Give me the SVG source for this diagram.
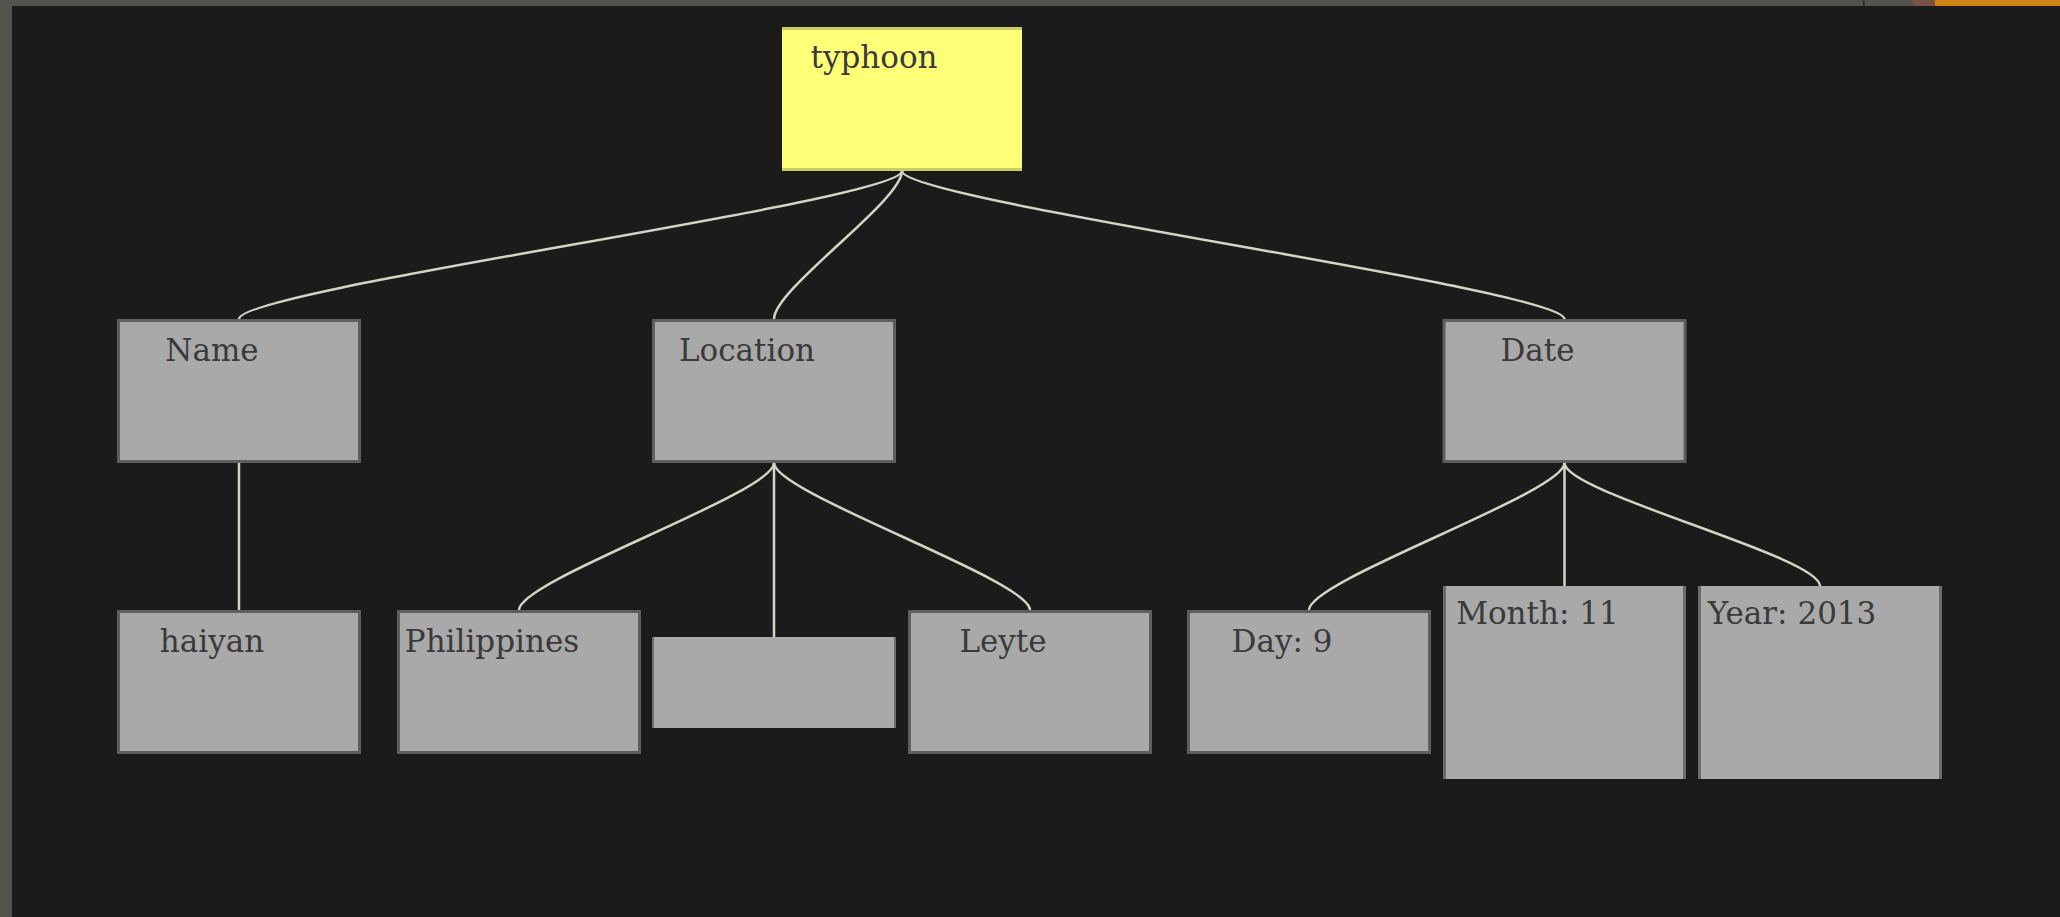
<svg xmlns="http://www.w3.org/2000/svg" width="2060" height="917" viewBox="0 0 2060 917">
<style>
.bg{fill:#1b1b1b}
.frame{fill:#53534b}
.box{fill:#a9a9a9;stroke:#5e5e5e;stroke-width:3}
.boxf{fill:#a9a9a9}
.side{fill:#6c6c6c}
.lbl{font-family:"DejaVu Serif",serif;font-size:31px;fill:#3a3a3a;text-anchor:middle}
.conn path{fill:none;stroke:#d4d4c4;stroke-width:2.5}
</style>
<rect class="frame" x="0" y="0" width="2060" height="917"/>
<rect class="bg" x="12" y="6" width="2048" height="911"/>
<rect x="1863" y="0" width="1.5" height="6" fill="#2a2a2a"/>
<polygon points="1912,0 1935,0 1935,6 1914,6" fill="#7a5242"/>
<rect x="1935" y="0" width="125" height="6" fill="#cf8617"/>

<g id="connectors" class="conn">
<path d="M902,171 C902,201 239,289 239,319"/>
<path d="M902,171 C902,201 774,289 774,319"/>
<path d="M902,171 C902,201 1564.5,289 1564.5,319"/>
<path d="M239,463 V610"/>
<path d="M774,463 C774,493 519,580 519,610"/>
<path d="M774,463 V637"/>
<path d="M774,463 C774,493 1030,580 1030,610"/>
<path d="M1564.5,463 C1564.5,493 1309,580 1309,610"/>
<path d="M1564.5,463 V586"/>
<path d="M1564.5,463 C1564.5,493 1820,556 1820,586"/>
</g>

<g id="node-typhoon">
<rect x="782" y="27" width="240" height="144" fill="#ffff77"/>
<rect x="782" y="27" width="240" height="3" fill="#cccc66"/>
<rect x="782" y="168" width="240" height="3" fill="#cccc66"/>
<text class="lbl" x="874" y="68">typhoon</text>
</g>

<g id="node-name">
<rect class="box" x="118.5" y="320.5" width="241" height="141"/>
<text class="lbl" x="212" y="361">Name</text>
</g>
<g id="node-location">
<rect class="box" x="653.5" y="320.5" width="241" height="141"/>
<text class="lbl" x="747" y="361">Location</text>
</g>
<g id="node-date">
<rect class="box" x="1444" y="320.5" width="241" height="141"/>
<text class="lbl" x="1537.5" y="361">Date</text>
</g>

<g id="node-haiyan">
<rect class="box" x="118.5" y="611.5" width="241" height="141"/>
<text class="lbl" x="212" y="652">haiyan</text>
</g>
<g id="node-philippines">
<rect class="box" x="398.5" y="611.5" width="241" height="141"/>
<text class="lbl" x="492" y="652">Philippines</text>
</g>
<g id="node-empty">
<rect class="boxf" x="652" y="637" width="244" height="91"/>
<rect class="side" x="652" y="637" width="2" height="91"/>
<rect class="side" x="894" y="637" width="2" height="91"/>
</g>
<g id="node-leyte">
<rect class="box" x="909.5" y="611.5" width="241" height="141"/>
<text class="lbl" x="1003" y="652">Leyte</text>
</g>
<g id="node-day">
<rect class="box" x="1188.5" y="611.5" width="241" height="141"/>
<text class="lbl" x="1282" y="652">Day: 9</text>
</g>
<g id="node-month">
<rect class="boxf" x="1443" y="586" width="243" height="193"/>
<rect class="side" x="1443" y="586" width="3" height="193"/>
<rect class="side" x="1683" y="586" width="3" height="193"/>
<text class="lbl" x="1537.5" y="624">Month: 11</text>
</g>
<g id="node-year">
<rect class="boxf" x="1698" y="586" width="244" height="193"/>
<rect class="side" x="1698" y="586" width="3" height="193"/>
<rect class="side" x="1939" y="586" width="3" height="193"/>
<text class="lbl" x="1792" y="624">Year: 2013</text>
</g>
</svg>
